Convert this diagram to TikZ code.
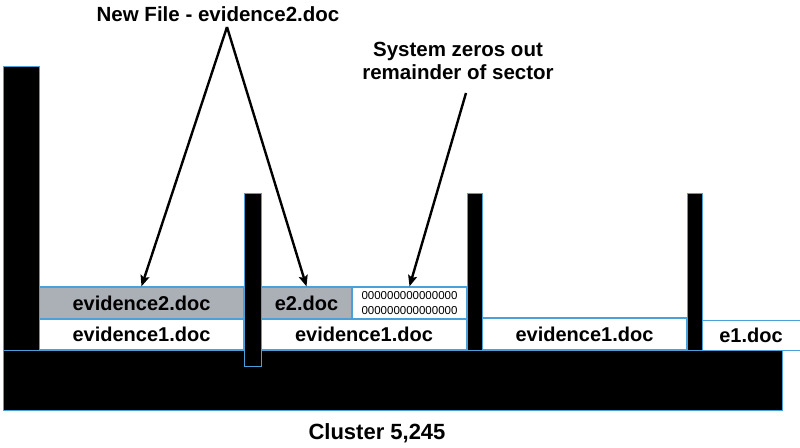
\documentclass[tikz,border=0pt]{standalone}
\usepackage{fontspec}
\setmainfont{Liberation Sans}
\usetikzlibrary{arrows.meta}
\definecolor{lineblue}{RGB}{74,160,216}
\definecolor{cellgray}{RGB}{170,176,181}
\tikzset{
  cellwhite/.style={draw=lineblue, line width=1.2pt, fill=white, inner sep=0pt, font=\fontsize{20}{22}\selectfont\bfseries},
  cellgrey/.style={cellwhite, fill=cellgray},
  bar/.style={fill=black, draw=lineblue, line width=0.8pt},
  lbl/.style={font=\fontsize{20.5}{23}\selectfont\bfseries, align=center, inner sep=0pt},
  arr/.style={line width=2.4pt, -{Stealth[length=11pt,width=9pt,inset=2pt]}},
}
\begin{document}
\begin{tikzpicture}[x=1pt,y=-1pt]
\useasboundingbox (0,0) rectangle (800,447);
% cells
\node[cellgrey, minimum width=205pt, minimum height=32pt] (g1) at (141.5,303) {evidence2.doc};
\node[cellgrey, minimum width=91pt, minimum height=32pt] (g2) at (306.5,303) {e2.doc};
\node[cellwhite, minimum width=115pt, minimum height=32pt, font=\fontsize{11.5}{14.5}\selectfont, align=center] (z) at (409.5,303) {000000000000000\\000000000000000};
\node[cellwhite, minimum width=205pt, minimum height=31pt] (w1) at (141.5,334.5) {evidence1.doc};
\node[cellwhite, minimum width=206pt, minimum height=31pt] (w2) at (364,334.5) {evidence1.doc};
\node[cellwhite, minimum width=205pt, minimum height=32pt] (w3) at (584.5,334) {evidence1.doc};
\node[cellwhite, draw=none, minimum width=98pt, minimum height=29pt] (w4) at (751,335.5) {e1.doc};
\draw[lineblue, line width=1.2pt] (w4.north west) -- (w4.north east);
\draw[lineblue, line width=1.2pt] (w4.south west) -- (w4.south east);
% bars
\path[bar] (3,350) rectangle (782,410);
\path[bar] (3,66) rectangle (39,350);
\path[bar] (244,193) rectangle (261,366);
\path[bar] (467,193) rectangle (482,350);
\path[bar] (687,193) rectangle (702,350);
% labels
\node[lbl] (title) at (218,14) {New File - evidence2.doc};
\node[lbl] (sys) at (458,61) {System zeros out\\remainder of sector};
\node[lbl, font=\fontsize{22}{24}\selectfont\bfseries] (cluster) at (377,433) {Cluster 5,245};
% arrows
\coordinate (apex) at (227,27);
\coordinate (zstart) at (466,93);
\draw[arr] (apex) -- (g1.north);
\draw[arr] (apex) -- (g2.north);
\draw[arr] (zstart) -- (z.north);
\end{tikzpicture}
\end{document}
